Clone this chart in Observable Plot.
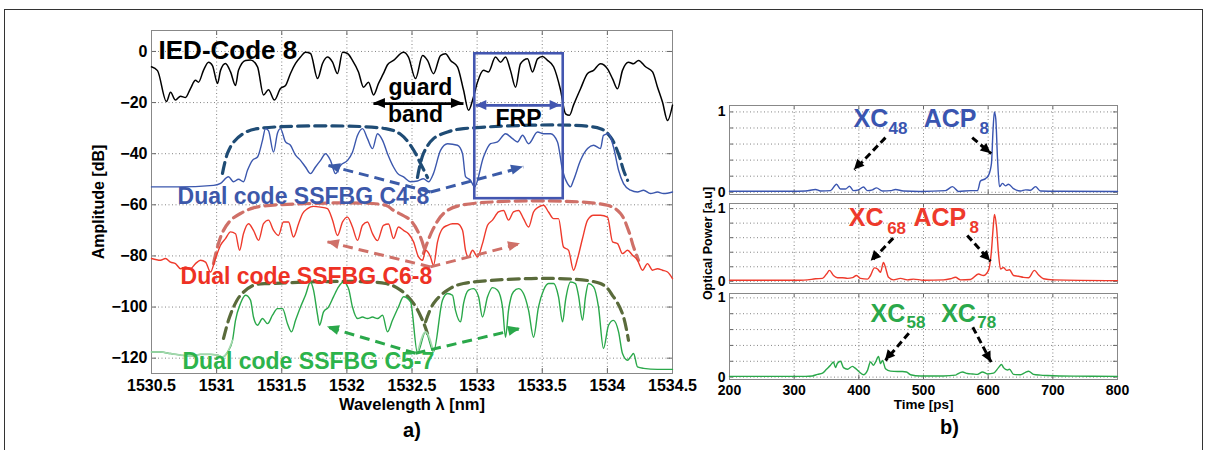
<!DOCTYPE html>
<html>
<head>
<meta charset="utf-8">
<script src="https://cdn.jsdelivr.net/npm/d3@7"></script>
<script src="https://cdn.jsdelivr.net/npm/@observablehq/plot@0.6"></script>
<style>
  html, body { margin: 0; background: #fff; }
  #figure { position: relative; width: 1209px; height: 450px; overflow: hidden; background: #fff; }
  #border { position: absolute; left: 4px; top: 9px; width: 1199px; height: 480px; border: 1.5px solid #333; box-sizing: border-box; }
  .panel { position: absolute; }
</style>
</head>
<body>
<div id="figure"><div id="border"></div></div>
<script>
const FONT = "'Liberation Sans', Arial, Helvetica, sans-serif";

// ---------- (a) reflection spectra: [wavelength nm, amplitude dB] ----------
const iedCode8 = [[1530.500,-6],[1530.546,-7.5],[1530.615,-19.6],[1530.646,-16],[1530.684,-19],[1530.723,-17.5],[1530.761,-18],[1530.799,-14.5],[1530.838,-11.3],[1530.861,-12],[1530.899,-7.4],[1530.938,-4.2],[1530.968,-5.5],[1531.007,-12.5],[1531.030,-7.4],[1531.068,-4.7],[1531.107,-8],[1531.145,-13.3],[1531.168,-7.4],[1531.222,-3.5],[1531.260,-3.3],[1531.314,-6],[1531.360,-17],[1531.398,-15],[1531.444,-19],[1531.490,-14.5],[1531.529,-13.3],[1531.567,-8.6],[1531.606,-4.7],[1531.644,-2.2],[1531.682,-0.3],[1531.721,-0.8],[1531.775,-10.6],[1531.813,-4.7],[1531.851,-2.2],[1531.890,-4.2],[1531.928,-8.6],[1531.967,-0.3],[1532.005,-0.8],[1532.043,-3.5],[1532.089,-8],[1532.128,-14],[1532.166,-12],[1532.205,-17],[1532.243,-12.5],[1532.281,-8.6],[1532.312,-5.2],[1532.358,-3.5],[1532.435,-0.3],[1532.473,-2.2],[1532.527,-10.6],[1532.581,-1.6],[1532.619,-3.5],[1532.665,-8.7],[1532.719,-1.6],[1532.757,-0.9],[1532.796,-3.5],[1532.849,-6],[1532.896,-15.2],[1532.934,-23],[1532.972,-17.8],[1533.003,-12],[1533.049,-7.4],[1533.087,-8],[1533.141,-2.2],[1533.180,-4.2],[1533.218,-2.2],[1533.256,-7.4],[1533.295,-14],[1533.333,-4.8],[1533.387,-2.9],[1533.425,-8],[1533.464,-2.9],[1533.502,-2],[1533.540,-3.5],[1533.587,-6],[1533.640,-15],[1533.679,-24.4],[1533.709,-25],[1533.740,-21],[1533.794,-14.6],[1533.848,-8.6],[1533.894,-7.4],[1533.947,-4.8],[1534.001,-6.8],[1534.040,-10.7],[1534.078,-14.6],[1534.116,-7.4],[1534.162,-4.2],[1534.201,-4.8],[1534.239,-3.5],[1534.293,-6],[1534.347,-8],[1534.385,-14],[1534.423,-19.8],[1534.462,-27],[1534.500,-21]];

const ssfbgC48 = [[1530.500,-53],[1530.700,-53],[1530.976,-52.4],[1531.030,-51.6],[1531.091,-49],[1531.130,-51],[1531.168,-50],[1531.206,-51],[1531.237,-46.5],[1531.275,-42.6],[1531.314,-41.3],[1531.352,-34.8],[1531.375,-30.2],[1531.398,-31],[1531.437,-39.4],[1531.467,-32],[1531.490,-30.2],[1531.529,-35.4],[1531.567,-36.7],[1531.606,-40.6],[1531.644,-42.6],[1531.682,-45.2],[1531.721,-47.8],[1531.759,-45.2],[1531.798,-42.6],[1531.836,-40],[1531.874,-42.6],[1531.913,-47.8],[1531.951,-44.6],[1532.005,-42.6],[1532.043,-39.4],[1532.082,-32.8],[1532.120,-30.2],[1532.158,-34.1],[1532.197,-38],[1532.235,-32.2],[1532.274,-34.8],[1532.312,-40],[1532.358,-45.2],[1532.389,-47.7],[1532.435,-49.1],[1532.489,-51],[1532.542,-50.7],[1532.588,-49.8],[1532.627,-51],[1532.665,-47.7],[1532.719,-38.7],[1532.773,-36.1],[1532.849,-36.7],[1532.888,-40],[1532.911,-49],[1532.949,-50.4],[1532.980,-53],[1533.049,-41.3],[1533.103,-36.1],[1533.157,-35.4],[1533.218,-32.2],[1533.272,-34.1],[1533.310,-35.4],[1533.349,-32.8],[1533.395,-36.1],[1533.464,-31.5],[1533.510,-32.2],[1533.564,-32.2],[1533.617,-35.4],[1533.656,-46.5],[1533.694,-51.7],[1533.717,-53],[1533.740,-50.4],[1533.794,-42.6],[1533.848,-38],[1533.894,-36.7],[1533.947,-38],[1533.970,-32.8],[1534.009,-32.2],[1534.047,-37.4],[1534.086,-46.5],[1534.124,-51.7],[1534.178,-54.3],[1534.231,-55],[1534.278,-54.3],[1534.331,-55.6],[1534.385,-55],[1534.431,-55.6],[1534.500,-55]];

const ssfbgC68 = [[1530.500,-81],[1530.569,-81.7],[1530.607,-81],[1530.646,-82.4],[1530.684,-83],[1530.723,-85],[1530.761,-84.3],[1530.799,-85],[1530.838,-83],[1530.876,-81.7],[1530.915,-82.4],[1530.953,-86.3],[1530.991,-81],[1531.030,-75.8],[1531.068,-73.2],[1531.107,-70.6],[1531.145,-71.3],[1531.176,-77.8],[1531.206,-71.3],[1531.245,-67.4],[1531.283,-70],[1531.322,-73.9],[1531.360,-67.4],[1531.398,-66],[1531.437,-70],[1531.475,-72],[1531.513,-66.7],[1531.552,-66.7],[1531.590,-72.6],[1531.629,-67.4],[1531.659,-63.5],[1531.698,-61.5],[1531.744,-60.6],[1531.798,-60.9],[1531.851,-61.5],[1531.890,-66],[1531.928,-72],[1531.967,-66.7],[1532.005,-64.8],[1532.043,-68.7],[1532.082,-73.9],[1532.120,-68],[1532.158,-66.7],[1532.197,-71.3],[1532.235,-74],[1532.281,-68],[1532.320,-67.5],[1532.358,-73.2],[1532.396,-68.7],[1532.435,-70],[1532.473,-71.3],[1532.512,-74.5],[1532.550,-80.4],[1532.581,-81.7],[1532.604,-77.8],[1532.642,-80.4],[1532.665,-83.7],[1532.696,-74.5],[1532.734,-69.3],[1532.773,-68],[1532.811,-67.4],[1532.849,-67.4],[1532.888,-70],[1532.911,-77.8],[1532.934,-80.4],[1532.965,-77.8],[1533.003,-80.4],[1533.041,-75.2],[1533.080,-68],[1533.118,-66],[1533.164,-62.8],[1533.203,-62.2],[1533.241,-66],[1533.279,-62.8],[1533.318,-62.2],[1533.356,-65.4],[1533.395,-68.7],[1533.433,-62.8],[1533.471,-60.9],[1533.510,-60.2],[1533.548,-62.8],[1533.587,-65.4],[1533.625,-65.4],[1533.663,-76.5],[1533.702,-77.8],[1533.740,-85.6],[1533.771,-81],[1533.809,-73.2],[1533.848,-66],[1533.894,-64.1],[1533.947,-64.1],[1534.001,-64.8],[1534.040,-74.5],[1534.078,-75.2],[1534.116,-79.1],[1534.155,-77.8],[1534.193,-79.7],[1534.231,-81.7],[1534.270,-85.6],[1534.308,-83],[1534.347,-85.6],[1534.385,-85],[1534.423,-85.6],[1534.462,-86.3],[1534.500,-88.9]];

const ssfbgC57 = [[1530.500,-117.6],[1530.569,-117.6],[1530.646,-118.2],[1530.723,-118.8],[1530.799,-119.2],[1530.876,-118.5],[1530.953,-118.5],[1531.007,-118.8],[1531.045,-119.5],[1531.084,-117.6],[1531.122,-113],[1531.145,-105.2],[1531.183,-98.6],[1531.222,-95.4],[1531.260,-97.3],[1531.283,-103.9],[1531.314,-107.1],[1531.352,-104.5],[1531.391,-106.5],[1531.429,-103.2],[1531.467,-100.6],[1531.506,-100.6],[1531.544,-106.5],[1531.575,-109.7],[1531.606,-105.2],[1531.644,-100],[1531.682,-95.4],[1531.721,-90.2],[1531.744,-93.4],[1531.775,-103.2],[1531.790,-107.1],[1531.821,-101.9],[1531.859,-100],[1531.897,-96],[1531.936,-92.1],[1531.974,-90.2],[1532.013,-92.8],[1532.043,-100],[1532.082,-104.5],[1532.120,-103.9],[1532.158,-104.5],[1532.197,-103.9],[1532.235,-104.5],[1532.274,-103.2],[1532.312,-109.7],[1532.350,-105.2],[1532.396,-100],[1532.435,-96],[1532.489,-98],[1532.542,-118],[1532.604,-109.7],[1532.665,-117.5],[1532.734,-97.3],[1532.773,-94.7],[1532.811,-95.4],[1532.834,-101.3],[1532.873,-105.8],[1532.896,-98.6],[1532.934,-93.4],[1532.972,-92.8],[1533.011,-96],[1533.041,-103.9],[1533.080,-96],[1533.118,-92.4],[1533.157,-93.4],[1533.195,-100],[1533.218,-111.8],[1533.241,-101.3],[1533.279,-94],[1533.318,-92.8],[1533.356,-94.7],[1533.395,-101.3],[1533.433,-111.8],[1533.471,-100],[1533.510,-93.4],[1533.548,-90.8],[1533.587,-90.8],[1533.625,-96],[1533.656,-105.8],[1533.679,-97.3],[1533.717,-90.2],[1533.755,-90.8],[1533.778,-95.4],[1533.809,-105.2],[1533.832,-96],[1533.855,-90.8],[1533.894,-92.1],[1533.932,-100],[1533.970,-116.2],[1534.009,-107.1],[1534.047,-105.2],[1534.086,-109.7],[1534.116,-118.2],[1534.155,-120.8],[1534.178,-119.5],[1534.201,-118.2],[1534.231,-123.4],[1534.278,-124],[1534.385,-124.4],[1534.500,-124.4]];
// stretches of the C5-7 trace drawn in a faded tone
const fadedC57 = [[1530.5, 1531.122], [1532.50, 1532.70]];

// band envelopes of the two codes written in each grating (left code, right code)
const envelopeC48 = [
  [[1531.045,-47.7],[1531.083,-39.9],[1531.130,-35.5],[1531.206,-32.1],[1531.314,-30.2],[1532.297,-30.2],[1532.412,-32.4],[1532.504,-37.9],[1532.565,-43.8],[1532.619,-49.3]],
  [[1532.542,-49.3],[1532.588,-39.9],[1532.665,-34.1],[1532.773,-31.5],[1532.895,-30.2],[1533.947,-30.2],[1534.024,-33.5],[1534.085,-40],[1534.124,-46.5],[1534.155,-50.4]]
];
const envelopeC68 = [
  [[1530.976,-83],[1531.014,-75.1],[1531.053,-70],[1531.107,-66.1],[1531.183,-63.4],[1531.283,-61.2],[1531.414,-60.2],[1532.297,-60.2],[1532.358,-62.2],[1532.489,-66.1],[1532.565,-72.6],[1532.604,-79]],
  [[1532.588,-79],[1532.657,-70],[1532.742,-63.4],[1532.872,-60.2],[1534.001,-60.2],[1534.101,-63.4],[1534.162,-70],[1534.201,-76.5],[1534.239,-81.7]]
];
const envelopeC57 = [
  [[1531.053,-112.3],[1531.091,-105.2],[1531.130,-100],[1531.183,-95.4],[1531.283,-91.5],[1531.414,-90.8],[1532.297,-90.8],[1532.412,-93.4],[1532.512,-98.6],[1532.581,-105.2],[1532.619,-110.4]],
  [[1532.604,-105.8],[1532.665,-98.6],[1532.773,-93.4],[1532.895,-90.8],[1533.947,-90.8],[1534.047,-96],[1534.116,-102.6],[1534.162,-113]]
];

// code-swap arrows: [from, to]
const swapC48 = [[[1532.642,-55],[1531.859,-44.6]], [[1532.642,-55],[1533.356,-45.2]]];
const swapC68 = [[[1532.642,-84.3],[1531.851,-74.5]], [[1532.642,-84.3],[1533.333,-75.2]]];
const swapC57 = [[[1532.527,-118.1],[1531.851,-107.8]], [[1532.527,-118.1],[1533.333,-108.4]]];

// guard band and FRP window
const guardBand = [[[1532.60,-20.4],[1532.204,-20.4]], [[1532.60,-20.4],[1532.895,-20.4]]];
const frpBand = [[[1533.32,-21.1],[1532.99,-21.1]], [[1533.32,-21.1],[1533.645,-21.1]]];
const frpWindow = [{x1: 1532.982, x2: 1533.661, y1: -57.6, y2: -0.9}];

const codeNames = ["IED-Code 8", "Dual code SSFBG C4-8", "Dual code SSFBG C6-8", "Dual code SSFBG C5-7"];
const codeNameAt = [[1530.554,-2.9],[1530.700,-59.6],[1530.723,-90.8],[1530.738,-124.4]];
const bandWords = ["guard", "band", "FRP"];
const bandWordAt = [[1532.565,-17.2],[1532.527,-27.6],[1533.318,-29.3]];

const wavelengthTicks = [1530.5, 1531, 1531.5, 1532, 1532.5, 1533, 1533.5, 1534, 1534.5];
const amplitudeTicks = [-120, -100, -80, -60, -40, -20, 0];

// ---------- (b) correlation traces: [time ps, optical power a.u.] ----------
const traceC48 = [[200,0.012],[294,0.012],[317.5,0.015],[333,0.035],[340.7,0.015],[356.2,0.02],[365.5,0.1],[371.6,0.04],[379.4,0.04],[385.6,0.075],[391.7,0.02],[399.5,0.03],[407.2,0.065],[413.4,0.02],[421.1,0.03],[427.3,0.055],[436.6,0.015],[449,0.02],[456.7,0.035],[469,0.015],[495.3,0.01],[534,0.02],[544.8,0.07],[554.1,0.01],[572.7,0.02],[583.5,0.02],[588.1,0.14],[595.9,0.17],[600.5,0.21],[605.1,0.36],[607.5,0.77],[609.6,1.0],[611.8,0.91],[614.4,0.43],[617.5,0.07],[622.1,0.11],[626.8,0.08],[631.4,0.1],[639.2,0.045],[650,0.015],[657.7,0.03],[665.4,0.025],[673.2,0.07],[680.9,0.015],[711.8,0.012],[800,0.01]];

const traceC68 = [[200,0.015],[309.8,0.015],[320.6,0.02],[333,0.035],[343.8,0.04],[350,0.1],[354.6,0.15],[360.8,0.08],[367,0.05],[374.7,0.05],[382.5,0.04],[390.2,0.05],[396.4,0.08],[402.6,0.04],[413.4,0.03],[418,0.08],[424.2,0.185],[428.9,0.17],[433.5,0.125],[438.1,0.26],[441.2,0.19],[445.9,0.055],[453.6,0.02],[464.4,0.04],[475.2,0.02],[484.5,0.03],[500,0.015],[530.9,0.02],[541.7,0.035],[549.5,0.055],[557.2,0.02],[572.7,0.025],[585,0.1],[592.8,0.08],[600.5,0.15],[605.1,0.42],[608.2,0.79],[609.8,0.92],[612.9,0.75],[616,0.38],[619.1,0.17],[623.7,0.19],[628.3,0.15],[633,0.16],[639.2,0.08],[646.9,0.07],[654.6,0.055],[662.4,0.05],[671.6,0.15],[677.8,0.09],[685.6,0.035],[701,0.02],[800,0.01]];

const traceC57 = [[200,0.01],[317.5,0.01],[328.3,0.015],[336.1,0.035],[343.8,0.05],[350,0.1],[356.2,0.15],[360.8,0.19],[363.9,0.12],[367,0.175],[371.6,0.2],[376.3,0.12],[382.5,0.1],[390.2,0.135],[393.3,0.12],[399.5,0.075],[407.2,0.03],[413.4,0.085],[418,0.19],[422.7,0.15],[425.8,0.19],[430.4,0.26],[433.5,0.17],[436.6,0.21],[441.2,0.105],[449,0.075],[459.8,0.07],[467.5,0.07],[473.7,0.065],[479.9,0.03],[495.3,0.015],[530.9,0.015],[549.5,0.025],[552.6,0.04],[560.3,0.065],[568,0.045],[575.8,0.04],[583.5,0.035],[591.2,0.065],[599,0.04],[608.2,0.05],[616,0.12],[620.6,0.16],[623.7,0.12],[629.9,0.09],[633,0.1],[639.2,0.035],[650,0.03],[657.7,0.06],[662.4,0.075],[670.1,0.035],[680.9,0.025],[691.7,0.02],[731.9,0.012],[800,0.01]];

const timeTicks = [200, 300, 400, 500, 600, 700, 800];
const powerGrid = [0, 0.2, 0.4, 0.6, 0.8, 1];
const powerLabels = [0, 1];

// peak names: main text and subscript with their anchors
const peaksC48 = [{main: "XC", sub: "48", at: [391.7,0.81], subAt: [446,0.72]}, {main: "ACP", sub: "8", at: [500.4,0.81], subAt: [586.6,0.73]}];
const peaksC68 = [{main: "XC", sub: "68", at: [384.5,0.755], subAt: [443.8,0.655]}, {main: "ACP", sub: "8", at: [484.5,0.755], subAt: [571.1,0.663]}];
const peaksC57 = [{main: "XC", sub: "58", at: [418,0.693], subAt: [473.7,0.617]}, {main: "XC", sub: "78", at: [527.3,0.693], subAt: [583,0.617]}];

const pointersC48 = [[[441.2,0.68],[393.3,0.277]], [[575.3,0.68],[604.7,0.48]]];
const pointersC68 = [[[453.1,0.594],[419.1,0.276]], [[567.6,0.631],[603.6,0.276]]];
const pointersC57 = [[[477.3,0.554],[441.2,0.21]], [[576.2,0.63],[604.7,0.189]]];

// ---------- helpers ----------
const X = d => d[0], Y = d => d[1];
const minusFormat = d => (d < 0 ? "\u2212" + (-d) : String(d));
const bold = {fontFamily: FONT, fontWeight: "bold"};

// filled arrow heads drawn through the plot's own x/y scales
function arrowHeads(list, color, len, half) {
  return (index, scales) => {
    const g = d3.create("svg:g").attr("fill", color);
    for (const [[ax, ay], [bx, by]] of list) {
      const x1 = scales.x(ax), y1 = scales.y(ay), x2 = scales.x(bx), y2 = scales.y(by);
      const a = Math.atan2(y2 - y1, x2 - x1), c = Math.cos(a), s = Math.sin(a);
      const ex = x2 - len * c, ey = y2 - len * s;
      g.append("path").attr("d", `M${x2},${y2}L${ex - half * s},${ey + half * c}L${ex + half * s},${ey - half * c}Z`);
    }
    return g.node();
  };
}
function arrowShafts(list, color, width, dash) {
  return Plot.link(list, {x1: d => d[0][0], y1: d => d[0][1], x2: d => d[1][0], y2: d => d[1][1],
    stroke: color, strokeWidth: width, strokeDasharray: dash});
}
function envelope(pieces, color) {
  return Plot.line(pieces.flatMap((p, i) => p.map(d => [d[0], d[1], i])),
    {x: X, y: Y, z: d => d[2], stroke: color, strokeWidth: 3.2, strokeDasharray: "11,6", curve: "catmull-rom"});
}
function insideTicks(xs, ys, fw, fh, len) {
  return [
    Plot.tickX(xs, {x: d => d, insetTop: fh - len, stroke: "#666"}),
    Plot.tickX(xs, {x: d => d, insetBottom: fh - len, stroke: "#666"}),
    Plot.tickY(ys, {y: d => d, insetRight: fw - len, stroke: "#666"}),
    Plot.tickY(ys, {y: d => d, insetLeft: fw - len, stroke: "#666"})
  ];
}
const svgStyle = {fontFamily: FONT, fontWeight: "bold", background: "none", overflow: "visible"};
const fig = document.getElementById("figure");
function place(svg, left, top) {
  svg.classList.add("panel");
  svg.style.left = left + "px";
  svg.style.top = top + "px";
  fig.appendChild(svg);
}

// ---------- (a) spectra ----------
const codeColors = ["#000000", "#3d58aa", "#ee3124", "#2db34b"];
const spectra = Plot.plot({
  width: 700, height: 450,
  marginLeft: 151, marginRight: 28, marginTop: 30, marginBottom: 77,
  style: svgStyle,
  x: {domain: [1530.5, 1534.5], axis: null},
  y: {domain: [-126, 8.2], axis: null},
  marks: [
    Plot.gridX(wavelengthTicks, {stroke: "#777", strokeOpacity: 0.9, strokeDasharray: "1,2.5"}),
    Plot.gridY(amplitudeTicks, {stroke: "#777", strokeOpacity: 0.9, strokeDasharray: "1,2.5"}),
    ...insideTicks(wavelengthTicks, amplitudeTicks, 521, 343, 5),
    Plot.frame({stroke: "#888"}),
    Plot.axisX(wavelengthTicks, {tickFormat: d => String(d), tickSize: 0, tickPadding: 6, fontSize: 16, ...bold, label: null}),
    Plot.axisY(amplitudeTicks, {tickFormat: minusFormat, tickSize: 0, tickPadding: 4, fontSize: 16, ...bold, label: null}),
    Plot.text(["Amplitude [dB]"], {frameAnchor: "left", textAnchor: "middle", rotate: -90, dx: -53, fontSize: 16, ...bold}),
    Plot.text(["Wavelength \u03bb [nm]"], {frameAnchor: "bottom", dy: 36, fontSize: 16.5, ...bold}),
    Plot.text(["a)"], {frameAnchor: "bottom", dy: 63, fontSize: 20, ...bold}),

    envelope(envelopeC48, "#1f4c75"),
    envelope(envelopeC68, "#cf7068"),
    envelope(envelopeC57, "#5a6b3b"),

    Plot.line(iedCode8, {x: X, y: Y, stroke: "#000", strokeWidth: 1.5, curve: "monotone-x"}),
    Plot.line(ssfbgC48, {x: X, y: Y, stroke: "#3b57ad", strokeWidth: 1.4, curve: "monotone-x"}),
    Plot.line(ssfbgC68, {x: X, y: Y, stroke: "#ee3a2c", strokeWidth: 1.4, curve: "monotone-x"}),
    Plot.line(ssfbgC57, {x: X, y: Y, stroke: "#2aa84a", strokeWidth: 1.4, curve: "monotone-x"}),
    ...fadedC57.map(([lo, hi]) => Plot.line(ssfbgC57.filter(d => d[0] >= lo && d[0] <= hi),
      {x: X, y: Y, stroke: "#a4d8ae", strokeWidth: 1.6, curve: "monotone-x"})),

    arrowShafts(swapC48, "#3b5ba8", 3, "10,6"), arrowHeads(swapC48, "#3b5ba8", 12, 5),
    arrowShafts(swapC68, "#cf7068", 3, "10,6"), arrowHeads(swapC68, "#cf7068", 12, 5),
    arrowShafts(swapC57, "#2aa84a", 3, "10,6"), arrowHeads(swapC57, "#2aa84a", 12, 5),

    Plot.rect(frpWindow, {x1: "x1", x2: "x2", y1: "y1", y2: "y2", fill: "none", stroke: "#4356b0", strokeWidth: 2.6}),
    arrowShafts(guardBand, "#000", 2.6, null), arrowHeads(guardBand, "#000", 12, 5),
    arrowShafts(frpBand, "#4356b0", 2.6, null), arrowHeads(frpBand, "#4356b0", 11, 5),

    Plot.text(bandWords, {x: (d, i) => bandWordAt[i][0], y: (d, i) => bandWordAt[i][1], text: d => d,
      lineAnchor: "bottom", fontSize: 23, fill: "#000", ...bold}),
    Plot.text(codeNames, {x: (d, i) => codeNameAt[i][0], y: (d, i) => codeNameAt[i][1], text: d => d,
      textAnchor: "start", lineAnchor: "bottom", fontSize: (d, i) => (i === 0 ? 26 : 23),
      fill: (d, i) => codeColors[i], ...bold})
  ]
});
place(spectra, 0, 0);

// ---------- (b) correlation traces ----------
function tracePanel({trace, color, domain, top, height, marginBottom, peaks, pointers, extra = []}) {
  const fw = 388, fh = height - 10 - marginBottom;
  const svg = Plot.plot({
    width: 509, height,
    marginLeft: 29, marginRight: 92, marginTop: 10, marginBottom,
    style: svgStyle,
    x: {domain: [200, 800], axis: null},
    y: {domain, axis: null},
    marks: [
      Plot.gridX(timeTicks.slice(1, -1), {stroke: "#777", strokeOpacity: 0.9, strokeDasharray: "1,2.5"}),
      Plot.gridY(powerGrid, {stroke: "#777", strokeOpacity: 0.9, strokeDasharray: "1,2.5"}),
      ...insideTicks(timeTicks, powerGrid, fw, fh, 4),
      Plot.frame({stroke: "#888"}),
      Plot.axisY(powerLabels, {tickFormat: d => String(d), tickSize: 0, tickPadding: 4, fontSize: 14, ...bold, label: null}),
      Plot.line(trace, {x: X, y: Y, stroke: color, strokeWidth: 1.4, curve: "monotone-x"}),
      arrowShafts(pointers, "#000", 3, "7,4"), arrowHeads(pointers, "#000", 10, 5),
      Plot.text(peaks, {x: d => d.at[0], y: d => d.at[1], text: "main", textAnchor: "start", lineAnchor: "bottom", fontSize: 25, fill: color, ...bold}),
      Plot.text(peaks, {x: d => d.subAt[0], y: d => d.subAt[1], text: "sub", textAnchor: "start", lineAnchor: "bottom", fontSize: 17, fill: color, ...bold}),
      ...extra
    ]
  });
  place(svg, 700, top);
}

tracePanel({trace: traceC48, color: "#3a55b0", domain: [-0.028, 1.08], top: 95, height: 109, marginBottom: 10,
  peaks: peaksC48, pointers: pointersC48});
tracePanel({trace: traceC68, color: "#ee3a2c", domain: [-0.03, 1.07], top: 193, height: 100, marginBottom: 10,
  peaks: peaksC68, pointers: pointersC68,
  extra: [Plot.text(["Optical Power [a.u]"], {frameAnchor: "left", textAnchor: "middle", rotate: -90, dx: -22, fontSize: 12.5, ...bold})]});
tracePanel({trace: traceC57, color: "#2aa84a", domain: [-0.03, 1.055], top: 283, height: 167, marginBottom: 71,
  peaks: peaksC57, pointers: pointersC57,
  extra: [
    Plot.axisX(timeTicks, {tickFormat: d => String(d), tickSize: 0, tickPadding: 6, fontSize: 14, ...bold, label: null}),
    Plot.text(["Time [ps]"], {frameAnchor: "bottom", dy: 29, fontSize: 13.5, ...bold}),
    Plot.text(["b)"], {frameAnchor: "bottom", dx: 26, dy: 54, fontSize: 20, ...bold})
  ]});
</script>
</body>
</html>
